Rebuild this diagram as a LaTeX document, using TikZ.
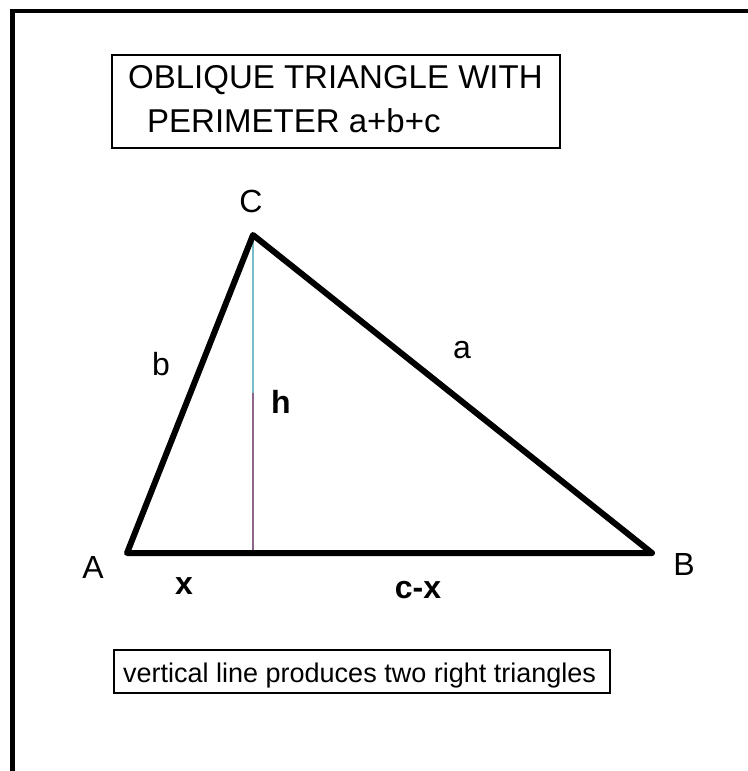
\documentclass[tikz,border=0pt]{standalone}
\usepackage{fontspec}
\setmainfont{Liberation Sans}
\begin{document}
\begin{tikzpicture}[x=1pt,y=-1pt,
  lbl/.style={font=\fontsize{32}{32}\selectfont, inner sep=0pt},
  blbl/.style={font=\fontsize{32}{32}\selectfont\bfseries, inner sep=0pt},
  side/.style={line width=6pt, line join=round, line cap=round},
  ttl/.style={font=\fontsize{33}{33}\selectfont, inner sep=0pt, anchor=base west},
  note/.style={font=\fontsize{27}{27}\selectfont, inner sep=0pt, anchor=base west}]
\useasboundingbox (0,0) rectangle (747,771);
% frame (only top and left visible)
\draw[line width=4.5pt] (12.5,780) -- (12.5,11) -- (760,11);
% title box
\draw[line width=1.3pt] (112,55) rectangle (560,148);
\node[ttl] (t1) at (128,88) {OBLIQUE TRIANGLE WITH};
\node[ttl] (t2) at (147,132) {PERIMETER a+b+c};
% triangle
\coordinate (A) at (127,553);
\coordinate (B) at (652,553);
\coordinate (C) at (253,235);
\coordinate (F) at (253,553);
\coordinate (M) at (253,393);
\draw[line width=1.6pt, color={rgb,255:red,120;green,190;blue,200}] (C) -- (M);
\draw[line width=1.6pt, color={rgb,255:red,140;green,100;blue,140}] (M) -- (F);
\draw[side] (A) -- (B) -- (C) -- cycle;
% labels
\node[lbl] (lC) at (251,201) {C};
\node[lbl] (lA) at (93,567) {A};
\node[lbl] (lB) at (684,564) {B};
\node[lbl] (la) at (462,350) {a};
\node[lbl] (lb) at (161,364) {b};
\node[blbl] (lh) at (281,402) {h};
\node[blbl] (lx) at (184,586) {x};
\node[blbl] (lcx) at (418,590) {c-x};
% bottom note
\draw[line width=1.3pt] (114,650) rectangle (610,693);
\node[note] (nt) at (123,682) {vertical line produces two right triangles};
\end{tikzpicture}
\end{document}
